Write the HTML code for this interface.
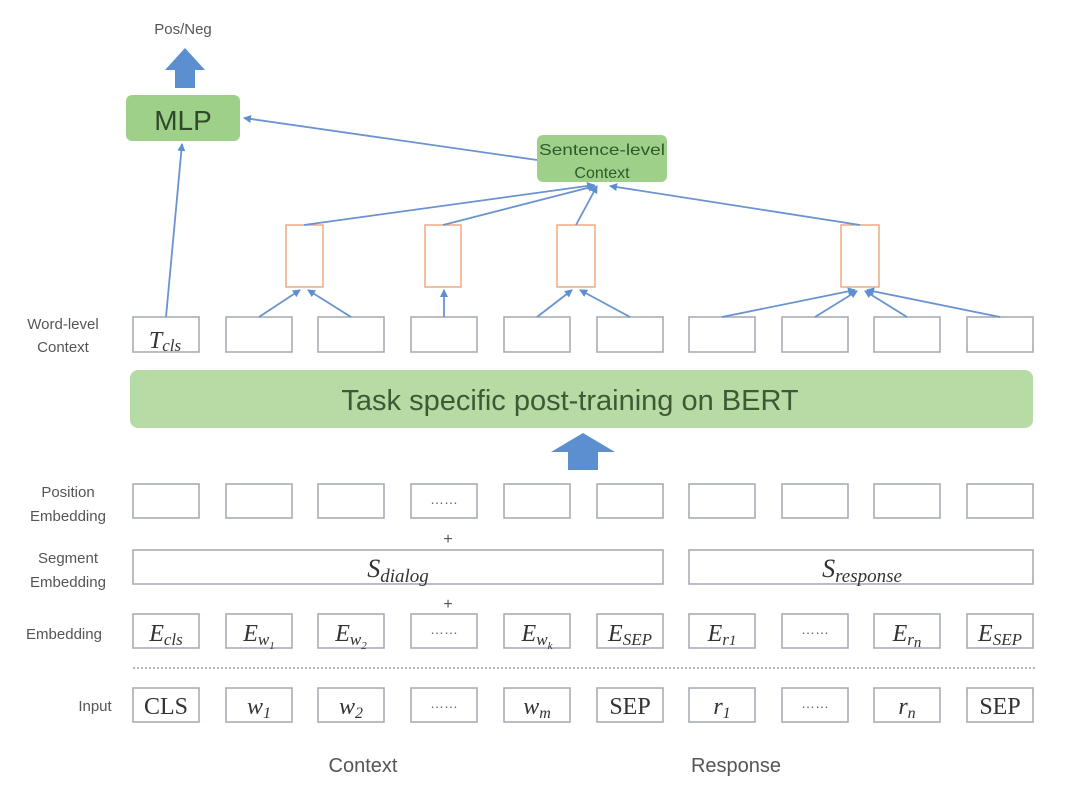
<!DOCTYPE html>
<html><head><meta charset="utf-8"><style>
html,body{margin:0;padding:0;background:#fff;}
svg{display:block;}
.lbl{font-family:"Liberation Sans",sans-serif;font-size:15px;fill:#555;}
.m{font-family:"Liberation Serif",serif;font-style:italic;fill:#333;}
.r{font-family:"Liberation Serif",serif;fill:#333;}
</style></head><body>
<svg width="1080" height="806" viewBox="0 0 1080 806" xmlns="http://www.w3.org/2000/svg">
<defs>
<marker id="a" markerWidth="8" markerHeight="8" refX="7" refY="4" orient="auto" markerUnits="userSpaceOnUse">
<path d="M0,0 L8,4 L0,8 z" fill="#5b8fd0"/></marker>
</defs>
<g stroke="#a8adb5" stroke-width="1.6" fill="#fff">
<rect x="133" y="317" width="66" height="35"/><rect x="226" y="317" width="66" height="35"/><rect x="318" y="317" width="66" height="35"/><rect x="411" y="317" width="66" height="35"/><rect x="504" y="317" width="66" height="35"/><rect x="597" y="317" width="66" height="35"/><rect x="689" y="317" width="66" height="35"/><rect x="782" y="317" width="66" height="35"/><rect x="874" y="317" width="66" height="35"/><rect x="967" y="317" width="66" height="35"/>
<rect x="133" y="484" width="66" height="34"/><rect x="226" y="484" width="66" height="34"/><rect x="318" y="484" width="66" height="34"/><rect x="411" y="484" width="66" height="34"/><rect x="504" y="484" width="66" height="34"/><rect x="597" y="484" width="66" height="34"/><rect x="689" y="484" width="66" height="34"/><rect x="782" y="484" width="66" height="34"/><rect x="874" y="484" width="66" height="34"/><rect x="967" y="484" width="66" height="34"/>
<rect x="133" y="550" width="530" height="34"/><rect x="689" y="550" width="344" height="34"/>
<rect x="133" y="614" width="66" height="34"/><rect x="226" y="614" width="66" height="34"/><rect x="318" y="614" width="66" height="34"/><rect x="411" y="614" width="66" height="34"/><rect x="504" y="614" width="66" height="34"/><rect x="597" y="614" width="66" height="34"/><rect x="689" y="614" width="66" height="34"/><rect x="782" y="614" width="66" height="34"/><rect x="874" y="614" width="66" height="34"/><rect x="967" y="614" width="66" height="34"/>
<rect x="133" y="688" width="66" height="34"/><rect x="226" y="688" width="66" height="34"/><rect x="318" y="688" width="66" height="34"/><rect x="411" y="688" width="66" height="34"/><rect x="504" y="688" width="66" height="34"/><rect x="597" y="688" width="66" height="34"/><rect x="689" y="688" width="66" height="34"/><rect x="782" y="688" width="66" height="34"/><rect x="874" y="688" width="66" height="34"/><rect x="967" y="688" width="66" height="34"/>
</g>
<line x1="133" y1="668" x2="1035" y2="668" stroke="#b5b9bf" stroke-width="2" stroke-dasharray="2,2"/>
<g stroke="#f0a37a" stroke-width="1.4" fill="#fff">
<rect x="286" y="225" width="37" height="62"/><rect x="425" y="225" width="36" height="62"/><rect x="557" y="225" width="38" height="62"/><rect x="841" y="225" width="38" height="62"/>
</g>
<rect x="130" y="370" width="903" height="58" rx="8" fill="#b7dba5"/>
<text x="570" y="410" text-anchor="middle" font-family="Liberation Sans,sans-serif" font-size="29" fill="#3d5a35">Task specific post-training on BERT</text>
<rect x="126" y="95" width="114" height="46" rx="6" fill="#9fd08a"/>
<text x="183" y="130" text-anchor="middle" font-family="Liberation Sans,sans-serif" font-size="28" fill="#2f4a2a">MLP</text>
<rect x="537" y="135" width="130" height="47" rx="6" fill="#9fd08a"/>
<text x="602" y="155" text-anchor="middle" font-family="Liberation Sans,sans-serif" font-size="16" fill="#2f5a2a" textLength="126" lengthAdjust="spacingAndGlyphs">Sentence-level</text>
<text x="602" y="178" text-anchor="middle" font-family="Liberation Sans,sans-serif" font-size="16" fill="#2f5a2a">Context</text>
<path d="M175,88 L175,70 L165,70 L185,48 L205,70 L195,70 L195,88 z" fill="#5b8fd0"/>
<path d="M568,470 L568,452 L551,452 L583,433 L615,452 L598,452 L598,470 z" fill="#5b8fd0"/>
<g stroke="#6a93cf" stroke-width="1.8" fill="none" marker-end="url(#a)">
<line x1="166" y1="317" x2="182" y2="144"/>
<line x1="537" y1="160" x2="244" y2="118"/>
<line x1="304" y1="225" x2="594" y2="185"/>
<line x1="443" y1="225" x2="595" y2="186"/>
<line x1="576" y1="225" x2="597" y2="186"/>
<line x1="860" y1="225" x2="610" y2="186"/>
<line x1="259" y1="317" x2="300" y2="290"/>
<line x1="351" y1="317" x2="308" y2="290"/>
<line x1="444" y1="317" x2="444" y2="290"/>
<line x1="537" y1="317" x2="572" y2="290"/>
<line x1="630" y1="317" x2="580" y2="290"/>
<line x1="722" y1="317" x2="855" y2="290"/>
<line x1="815" y1="317" x2="857" y2="291"/>
<line x1="907" y1="317" x2="865" y2="291"/>
<line x1="1000" y1="317" x2="867" y2="290"/>
</g>
<text x="183" y="34" text-anchor="middle" class="lbl">Pos/Neg</text>
<text x="63" y="329" text-anchor="middle" class="lbl">Word-level</text>
<text x="63" y="352" text-anchor="middle" class="lbl">Context</text>
<text x="68" y="497" text-anchor="middle" class="lbl">Position</text>
<text x="68" y="521" text-anchor="middle" class="lbl">Embedding</text>
<text x="68" y="563" text-anchor="middle" class="lbl">Segment</text>
<text x="68" y="587" text-anchor="middle" class="lbl">Embedding</text>
<text x="64" y="639" text-anchor="middle" class="lbl">Embedding</text>
<text x="95" y="711" text-anchor="middle" class="lbl">Input</text>
<text x="363" y="772" text-anchor="middle" class="lbl" style="font-size:20px">Context</text>
<text x="736" y="772" text-anchor="middle" class="lbl" style="font-size:20px">Response</text>
<text x="448" y="544" text-anchor="middle" class="lbl" style="font-size:16px">+</text>
<text x="448" y="609" text-anchor="middle" class="lbl" style="font-size:16px">+</text>
<g fill="#666" font-family="Liberation Sans,sans-serif" font-size="14" text-anchor="middle">
<text x="444" y="504">……</text><text x="444" y="634">……</text><text x="815" y="634">……</text><text x="444" y="708">……</text><text x="815" y="708">……</text>
</g>
<text x="165" y="348" text-anchor="middle" class="m" font-size="24">T<tspan font-size="17" dy="3">cls</tspan></text>
<text x="398" y="577" text-anchor="middle" class="m" font-size="26">S<tspan font-size="19" dy="5">dialog</tspan></text>
<text x="862" y="577" text-anchor="middle" class="m" font-size="26">S<tspan font-size="19" dy="5">response</tspan></text>
<g class="m" font-size="24" text-anchor="middle">
<text x="166" y="641">E<tspan font-size="17" dy="4">cls</tspan></text>
<text x="259" y="641">E<tspan font-size="17" dy="4">w</tspan><tspan font-size="11" dy="4">1</tspan></text>
<text x="351" y="641">E<tspan font-size="17" dy="4">w</tspan><tspan font-size="11" dy="4">2</tspan></text>
<text x="537" y="641">E<tspan font-size="17" dy="4">w</tspan><tspan font-size="11" dy="4">k</tspan></text>
<text x="630" y="641">E<tspan font-size="17" dy="4">SEP</tspan></text>
<text x="722" y="641">E<tspan font-size="17" dy="4">r</tspan><tspan font-size="15" dy="0">1</tspan></text>
<text x="907" y="641">E<tspan font-size="17" dy="4">r</tspan><tspan font-size="15" dy="2">n</tspan></text>
<text x="1000" y="641">E<tspan font-size="17" dy="4">SEP</tspan></text>
</g>
<g font-size="24" text-anchor="middle">
<text x="166" y="714" class="r">CLS</text>
<text x="259" y="714" class="m">w<tspan font-size="16" dy="4">1</tspan></text>
<text x="351" y="714" class="m">w<tspan font-size="16" dy="4">2</tspan></text>
<text x="537" y="714" class="m">w<tspan font-size="16" dy="4">m</tspan></text>
<text x="630" y="714" class="r">SEP</text>
<text x="722" y="714" class="m">r<tspan font-size="16" dy="4">1</tspan></text>
<text x="907" y="714" class="m">r<tspan font-size="16" dy="4">n</tspan></text>
<text x="1000" y="714" class="r">SEP</text>
</g>
</svg>
</body></html>
